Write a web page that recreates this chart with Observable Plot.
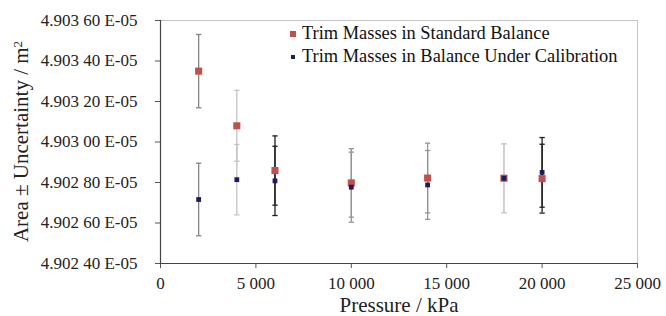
<!DOCTYPE html>
<html><head><meta charset="utf-8">
<script src="https://cdn.jsdelivr.net/npm/d3@7"></script>
<script src="https://cdn.jsdelivr.net/npm/@observablehq/plot@0.6"></script>
<style>
body{margin:0;background:#fff;}
#wrap{position:relative;width:666px;height:316px;font-family:"Liberation Serif","Times New Roman",serif;}
#legend{position:absolute;left:290px;top:22px;font-size:18.4px;color:#111;line-height:23px;white-space:nowrap;}
#legend div{height:23px;}
.sw{display:inline-block;vertical-align:middle;margin-right:6px;position:relative;top:-1px;}
</style></head><body><div id="wrap"><div id="legend"></div></div>
<script>
const pressures = [2000, 4000, 6000, 10000, 14000, 18000, 20000];
const standardArea = [4.903350, 4.903080, 4.902859, 4.902798, 4.902822, 4.902821, 4.902819];
const standardUnc = [0.000181, 0.000175, 0.000171, 0.000169, 0.000172, 0.000170, 0.000170];
const calibrationArea = [4.902716, 4.902814, 4.902808, 4.902777, 4.902788, 4.902821, 4.902850];
const calibrationUnc = [0.000179, 0.000174, 0.000171, 0.000173, 0.000170, 0.000170, 0.000172];
const seriesNames = ["Trim Masses in Standard Balance", "Trim Masses in Balance Under Calibration"];
const yTicks = [4.9024, 4.9026, 4.9028, 4.9030, 4.9032, 4.9034, 4.9036];
const xTicks = [0, 5000, 10000, 15000, 20000, 25000];

// styles
const colors = {std: "#c0504d", cal: "#1b1b5e"};
const barShade = {2000: "#858585", 4000: "#c2c2c2", 6000: "#1e1e1e", 10000: "#959595", 14000: "#959595", 18000: "#cacaca", 20000: "#1e1e1e"};

const rows = [];
pressures.forEach((p, i) => {
  rows.push({series: "std", p, v: standardArea[i], e: standardUnc[i]});
});
pressures.forEach((p, i) => {
  rows.push({series: "cal", p, v: calibrationArea[i], e: calibrationUnc[i]});
});

const capSymbol = {draw(ctx, size) { const w = Math.sqrt(size) / 2; ctx.moveTo(-w, 0); ctx.lineTo(w, 0); }};
const locale = d3.formatLocale({decimal: ".", thousands: " ", grouping: [3], currency: ["", ""]});
const xFmt = locale.format(",d");
const yFmt = v => { const s = v.toFixed(5); return s.slice(0, 5) + " " + s.slice(5) + " E-05"; };

const chart = Plot.plot({
  width: 666, height: 316,
  marginLeft: 160, marginRight: 29, marginTop: 20, marginBottom: 53,
  style: {fontFamily: "'Liberation Serif','Times New Roman',serif", fontSize: "17px", color: "#222", background: "white"},
  x: {domain: [0, 25000], ticks: xTicks, tickFormat: xFmt, tickSize: 5, tickPadding: 8, label: null},
  y: {domain: [4.9024, 4.9036], ticks: yTicks, tickFormat: yFmt, tickSize: 5, tickPadding: 18, label: null},
  marks: [
    Plot.frame({stroke: "#c4c4c4", strokeWidth: 1}),
    Plot.ruleX(rows, {x: "p", y1: d => d.v - d.e, y2: d => d.v + d.e, stroke: d => barShade[d.p], strokeWidth: 1.3}),
    Plot.dot(rows, {x: "p", y: d => d.v - d.e, symbol: capSymbol, r: 3, stroke: d => barShade[d.p], strokeWidth: 1.3}),
    Plot.dot(rows, {x: "p", y: d => d.v + d.e, symbol: capSymbol, r: 3, stroke: d => barShade[d.p], strokeWidth: 1.3}),
    Plot.dot(rows.filter(d => d.series === "std"), {x: "p", y: "v", symbol: "square", r: 4, fill: colors.std, stroke: null}),
    Plot.dot(rows.filter(d => d.series === "cal"), {x: "p", y: "v", symbol: "square", r: 2.7, fill: colors.cal, stroke: null}),
    Plot.axisX({ticks: xTicks, tickFormat: xFmt, tickSize: 5, tickPadding: 8, stroke: "#555", fontSize: 17,
      label: "Pressure / kPa", labelAnchor: "center", labelOffset: 48, labelArrow: "none"}),
    Plot.axisY({ticks: yTicks, tickFormat: yFmt, tickSize: 5, tickPadding: 18, stroke: "#555", fontSize: 17, label: null}),
    Plot.ruleY([4.9024], {stroke: "#444", strokeWidth: 1.2}),
    Plot.ruleX([0], {stroke: "#444", strokeWidth: 1.2})
  ]
});
const wrap = document.getElementById("wrap");
wrap.insertBefore(chart, wrap.firstChild);

// axis title font sizes and y-title with superscript
d3.select(chart).selectAll("[aria-label='x-axis label'] text").style("font-size", "21px");
const svg = d3.select(chart);
const yt = svg.append("text")
  .attr("transform", `translate(28,${(20 + 263) / 2}) rotate(-90)`)
  .attr("text-anchor", "middle")
  .style("font-size", "21px").attr("fill", "#222");
yt.append("tspan").text("Area ± Uncertainty / m");
yt.append("tspan").text("2").attr("dy", "-0.45em").style("font-size", "13px");

const legend = document.getElementById("legend");
[["std", 6], ["cal", 4.5]].forEach(([k, s], i) => {
  const row = document.createElement("div");
  row.innerHTML = `<span class="sw" style="width:${s}px;height:${s}px;background:${colors[k]};margin-left:${(6 - s) / 2}px;margin-right:${6 + (6 - s) / 2}px"></span>${seriesNames[i]}`;
  legend.appendChild(row);
});
</script></body></html>
